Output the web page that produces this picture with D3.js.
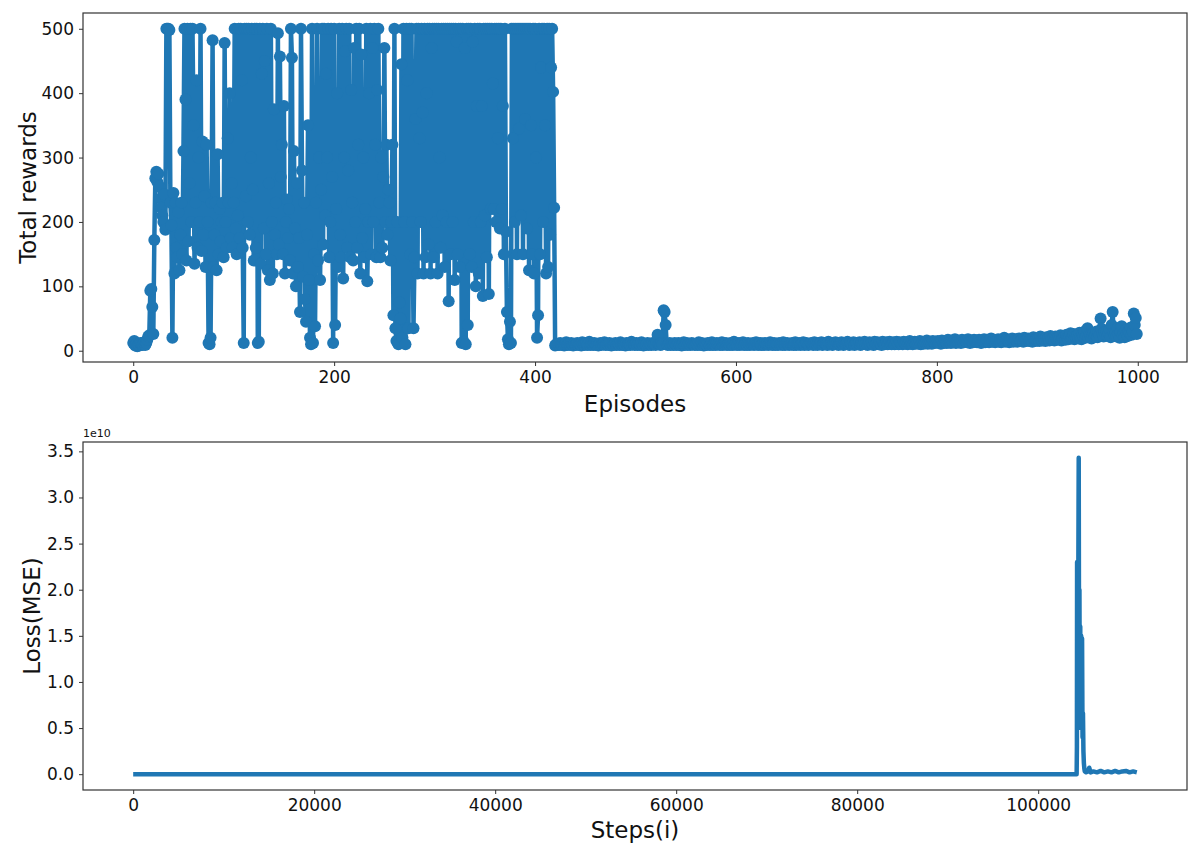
<!DOCTYPE html>
<html>
<head>
<meta charset="utf-8">
<script src="https://cdn.jsdelivr.net/npm/d3@7"></script>
<style>
  body { margin: 0; background: #fff; }
  text { font-family: "DejaVu Sans", sans-serif; }
</style>
</head>
<body>
<div id="chart"></div>
<script>
// total reward per episode (episode = index)
const rewards = [
  12, 15, 8, 10, 7, 9, 8, 12, 11, 9,
  10, 13, 9, 12, 17, 22, 24, 93, 96, 68,
  26, 172, 268, 278, 262, 275, 255, 236, 222, 210,
  200, 243, 188, 500, 500, 500, 498, 230, 195, 20,
  245, 120, 230, 160, 145, 215, 125, 180, 230, 150,
  310, 500, 390, 140, 500, 170, 260, 500, 200, 500,
  350, 135, 230, 420, 160, 300, 200, 500, 155, 325,
  180, 240, 130, 320, 200, 12, 10, 20, 230, 482,
  130, 180, 230, 125, 305, 150, 220, 170, 200, 230,
  145, 478, 200, 160, 330, 230, 400, 175, 260, 160,
  230, 500, 190, 150, 210, 500, 175, 500, 420, 160,
  12, 500, 240, 500, 200, 500, 180, 300, 500, 250,
  140, 500, 160, 500, 12, 14, 500, 135, 430, 500,
  190, 450, 150, 500, 125, 260, 110, 500, 200, 120,
  375, 180, 230, 150, 493, 165, 457, 270, 320, 150,
  380, 120, 200, 235, 175, 220, 140, 500, 455, 120,
  310, 190, 100, 260, 130, 175, 60, 500, 280, 115,
  230, 80, 45, 180, 350, 110, 20, 10, 500, 12,
  150, 38, 230, 500, 140, 300, 110, 250, 500, 165,
  500, 210, 430, 300, 500, 145, 200, 500, 270, 12,
  500, 40, 220, 400, 130, 500, 180, 145, 500, 112,
  300, 465, 500, 160, 280, 500, 145, 405, 230, 140,
  470, 200, 500, 160, 320, 500, 120, 460, 175, 300,
  145, 220, 500, 108, 200, 400, 500, 150, 470, 200,
  500, 320, 145, 405, 500, 230, 145, 300, 160, 270,
  470, 200, 320, 180, 250, 230, 140, 200, 320, 55,
  500, 35, 15, 200, 10, 75, 50, 445, 20, 500,
  200, 10, 500, 420, 35, 500, 150, 500, 200, 35,
  145, 360, 500, 120, 500, 330, 200, 500, 370, 120,
  500, 145, 400, 500, 165, 500, 120, 470, 500, 145,
  500, 200, 500, 120, 500, 300, 160, 500, 210, 500,
  130, 500, 200, 500, 77, 500, 150, 500, 200, 500,
  110, 500, 480, 150, 500, 130, 500, 12, 500, 14,
  470, 10, 500, 40, 500, 150, 500, 130, 480, 200,
  500, 100, 380, 500, 120, 500, 200, 380, 85, 500,
  210, 500, 145, 500, 88, 500, 220, 500, 415, 220,
  500, 200, 500, 330, 500, 190, 500, 220, 380, 150,
  500, 185, 60, 18, 10, 45, 12, 500, 330, 500,
  200, 500, 150, 500, 345, 500, 210, 500, 150, 500,
  360, 500, 190, 500, 125, 500, 350, 150, 500, 120,
  500, 300, 20, 55, 500, 150, 440, 500, 200, 500,
  350, 120, 500, 130, 500, 180, 440, 500, 402, 222,
  8, 10, 9, 11, 9, 12, 10, 9, 11, 8, 10, 13, 9, 10, 11, 9, 12, 10, 8, 11,
  9, 10, 12, 9, 11, 10, 8, 13, 10, 9, 11, 12, 9, 10, 14, 9, 11, 10, 9, 12,
  10, 9, 11, 8, 10, 12, 9, 11, 10, 13, 9, 10, 11, 9, 12, 10, 8, 11, 9, 10,
  12, 9, 10, 11, 9, 13, 10, 9, 11, 10, 8, 12, 9, 11, 10, 9, 14, 10, 11, 9,
  10, 12, 9, 11, 10, 9, 13, 10, 8, 11, 9, 10, 12, 9, 11, 10, 9, 12, 10, 11,
  9, 13, 25, 11, 10, 9, 12, 10, 63, 60, 40, 11, 9, 10, 12, 9, 11, 10, 9, 12,
  10, 9, 11, 12, 9, 10, 8, 11, 13, 9, 10, 12, 9, 11, 10, 9, 12, 10, 11, 9,
  10, 11, 9, 13, 10, 9, 12, 10, 8, 11, 10, 9, 12, 11, 9, 10, 13, 9, 10, 11,
  9, 12, 10, 11, 9, 10, 13, 9, 11, 10, 12, 9, 10, 11, 9, 12, 10, 9, 14, 10,
  11, 9, 10, 12, 9, 11, 10, 13, 9, 10, 11, 9, 12, 10, 9, 11, 10, 12, 9, 10,
  13, 10, 9, 11, 12, 9, 10, 11, 9, 12, 10, 11, 9, 10, 13, 11, 9, 10, 12, 9,
  11, 10, 9, 12, 10, 11, 9, 13, 10, 9, 11, 12, 10, 9, 11, 10, 12, 9, 10, 13,
  9, 11, 10, 12, 9, 10, 11, 13, 9, 10, 12, 11, 9, 10, 11, 12, 10, 9, 13, 10,
  11, 9, 12, 10, 11, 13, 9, 10, 12, 11, 10, 9, 14, 10, 11, 12, 9, 10, 11, 13,
  10, 12, 9, 11, 10, 13, 11, 9, 12, 10, 11, 14, 10, 9, 12, 11, 10, 13, 9, 11,
  12, 10, 11, 13, 9, 12, 10, 11, 14, 10, 12, 9, 11, 13, 10, 12, 11, 9, 14, 10,
  11, 13, 10, 12, 11, 9, 14, 12, 10, 11, 13, 10, 12, 14, 11, 10, 12, 13, 10, 11,
  14, 11, 10, 13, 12, 11, 10, 14, 12, 11, 13, 10, 12, 15, 11, 12, 10, 13, 14, 11,
  12, 13, 11, 15, 10, 12, 14, 11, 13, 12, 16, 11, 13, 12, 14, 11, 15, 13, 12, 14,
  13, 15, 12, 14, 11, 16, 13, 12, 15, 14, 12, 17, 13, 14, 12, 16, 13, 15, 18, 12,
  14, 16, 13, 15, 12, 17, 14, 13, 16, 15, 13, 18, 14, 12, 16, 15, 13, 17, 14, 16,
  13, 15, 17, 14, 12, 16, 15, 18, 13, 14, 17, 15, 13, 16, 19, 14, 15, 17, 13, 16,
  15, 18, 14, 16, 13, 17, 15, 20, 14, 16, 18, 15, 13, 17, 16, 19, 14, 15, 18, 16,
  14, 17, 19, 15, 16, 18, 14, 20, 16, 15, 17, 19, 15, 18, 16, 14, 21, 17, 15, 18,
  16, 19, 15, 22, 17, 16, 20, 18, 15, 21, 17, 19, 16, 23, 18, 17, 20, 16, 22, 19,
  17, 21, 18, 24, 16, 20, 19, 22, 17, 25, 20, 18, 23, 27, 19, 21, 26, 18, 22, 20,
  24, 19, 28, 21, 18, 25, 22, 30, 20, 23, 35, 21, 26, 24, 19, 24, 27, 22, 25, 30,
  21, 28, 24, 50, 34, 26, 22, 29, 25, 30, 23, 27, 33, 21, 40, 60, 28, 24, 28, 22,
  35, 25, 20, 29, 38, 24, 27, 21, 32, 26, 23, 30, 28, 36, 25, 30, 58, 40, 51, 26
];

// loss curve, read as (step, MSE) pairs
const lossSteps = [
  0, 104250, 104280, 104300, 104330, 104360, 104400, 104440, 104480, 104520,
  104560, 104600, 104650, 104700, 104750, 104800, 104850, 104900, 104950, 105000,
  105050, 105100, 105150, 105300, 105500, 105640, 105800, 106100, 106500, 106900,
  107300, 107700, 108100, 108500, 108900, 109300, 109700, 110100, 110500, 110900
];
const lossValues = [
  0, 0, 3e9, 2.3e10, 5e9, 1.65e10, 8e9, 2.3e10, 3.43e10, 1.0e10,
  2.0e10, 6e9, 1.6e10, 5e9, 1.5e10, 6e9, 1.47e10, 4e9, 6.6e9, 2.5e9,
  1.2e9, 6e8, 3e8, 2e8, 3e8, 7e8, 2e8, 3e8, 2e8, 3.5e8,
  2e8, 3e8, 2e8, 3.5e8, 2e8, 3e8, 3.5e8, 2e8, 3e8, 2e8
];

const topTicksX = [0, 200, 400, 600, 800, 1000];
const topTicksY = [0, 100, 200, 300, 400, 500];
const botTicksX = [0, 20000, 40000, 60000, 80000, 100000];
const botTicksY = [0, 0.5e10, 1.0e10, 1.5e10, 2.0e10, 2.5e10, 3.0e10, 3.5e10];

const width = 1200, height = 857;
const blue = "#1f77b4";
const top1 = { left: 83, right: 1187, top: 13, bottom: 362 };
const top2 = { left: 83, right: 1187, top: 442, bottom: 790 };

const svg = d3.select("#chart").append("svg")
  .attr("width", width)
  .attr("height", height);

// ---------- rewards panel ----------
const x1 = d3.scaleLinear().domain([-50, 1049]).range([top1.left, top1.right]);
const y1 = d3.scaleLinear().domain([-17.5, 524.5]).range([top1.bottom, top1.top]);

const g1 = svg.append("g");

g1.append("path")
  .datum(rewards)
  .attr("fill", "none")
  .attr("stroke", blue)
  .attr("stroke-width", 4.5)
  .attr("stroke-linejoin", "round")
  .attr("d", d3.line().x((d, i) => x1(i)).y(d => y1(d)));

g1.selectAll("circle")
  .data(rewards)
  .join("circle")
  .attr("cx", (d, i) => x1(i))
  .attr("cy", d => y1(d))
  .attr("r", 6)
  .attr("fill", blue);

// ---------- loss panel ----------
const x2 = d3.scaleLinear().domain([-5545, 116445]).range([top2.left, top2.right]);
const y2 = d3.scaleLinear().domain([-0.1715e10, 3.6015e10]).range([top2.bottom, top2.top]);

const g2 = svg.append("g");
g2.append("path")
  .datum(d3.zip(lossSteps, lossValues))
  .attr("fill", "none")
  .attr("stroke", blue)
  .attr("stroke-width", 4.5)
  .attr("stroke-linejoin", "round")
  .attr("d", d3.line().x(d => x2(d[0])).y(d => y2(d[1])));

// ---------- axes ----------
function styleAxis(g) {
  g.select(".domain").remove();
  g.selectAll(".tick line").attr("stroke", "#333").attr("stroke-width", 1);
  g.selectAll(".tick text")
    .attr("fill", "#111")
    .style("font-family", "DejaVu Sans")
    .style("font-size", "17px");
}

svg.append("g")
  .attr("transform", `translate(0,${top1.bottom})`)
  .call(d3.axisBottom(x1).tickValues(topTicksX).tickFormat(d3.format("d")).tickSize(4).tickPadding(5))
  .call(styleAxis);

svg.append("g")
  .attr("transform", `translate(${top1.left},0)`)
  .call(d3.axisLeft(y1).tickValues(topTicksY).tickSize(4).tickPadding(5))
  .call(styleAxis);

svg.append("g")
  .attr("transform", `translate(0,${top2.bottom})`)
  .call(d3.axisBottom(x2).tickValues(botTicksX).tickFormat(d3.format("d")).tickSize(4).tickPadding(5))
  .call(styleAxis);

svg.append("g")
  .attr("transform", `translate(${top2.left},0)`)
  .call(d3.axisLeft(y2).tickValues(botTicksY).tickFormat(d => (d / 1e10).toFixed(1)).tickSize(4).tickPadding(5))
  .call(styleAxis);

// frames
[top1, top2].forEach(b => {
  svg.append("rect")
    .attr("x", b.left)
    .attr("y", b.top)
    .attr("width", b.right - b.left)
    .attr("height", b.bottom - b.top)
    .attr("fill", "none")
    .attr("stroke", "#333")
    .attr("stroke-width", 1.2);
});

// labels
svg.append("text")
  .attr("transform", `translate(36,${(top1.top + top1.bottom) / 2}) rotate(-90)`)
  .attr("text-anchor", "middle")
  .attr("font-size", "23px")
  .attr("fill", "#111")
  .text("Total rewards");

svg.append("text")
  .attr("x", 635)
  .attr("y", 412)
  .attr("text-anchor", "middle")
  .attr("font-size", "23px")
  .attr("fill", "#111")
  .text("Episodes");

svg.append("text")
  .attr("transform", `translate(40,${(top2.top + top2.bottom) / 2}) rotate(-90)`)
  .attr("text-anchor", "middle")
  .attr("font-size", "23px")
  .attr("fill", "#111")
  .text("Loss(MSE)");

svg.append("text")
  .attr("x", 635)
  .attr("y", 838)
  .attr("text-anchor", "middle")
  .attr("font-size", "23px")
  .attr("fill", "#111")
  .text("Steps(i)");

svg.append("text")
  .attr("x", top2.left)
  .attr("y", 437)
  .attr("font-size", "11px")
  .attr("fill", "#111")
  .text("1e10");
</script>
</body>
</html>
